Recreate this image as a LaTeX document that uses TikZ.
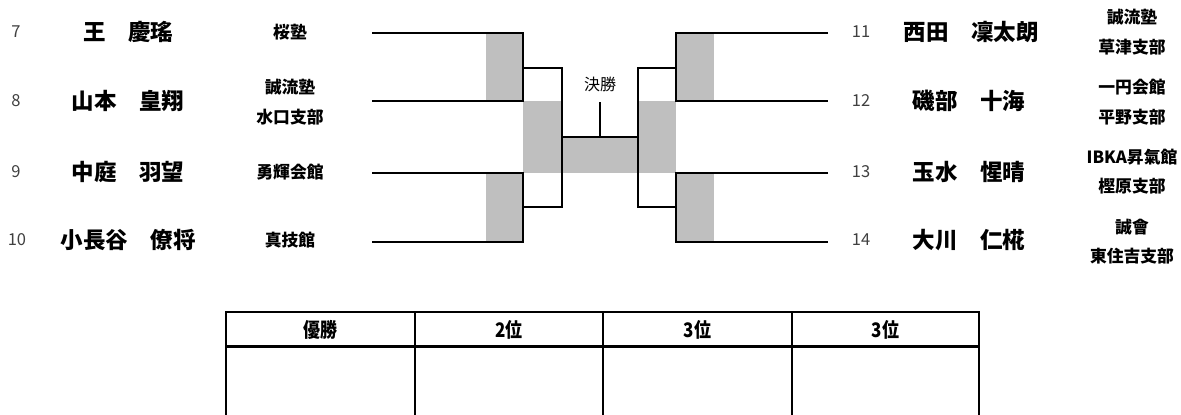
\documentclass[tikz,border=0pt]{standalone}
\usepackage{fontspec}
\usepackage{graphicx}
\setmainfont{Noto Sans CJK JP}
\definecolor{shade}{HTML}{BFBFBF}
\definecolor{numgray}{HTML}{404040}
\tikzset{
  pname/.style={font=\fontsize{22.5}{22.5}\selectfont\bfseries, inner sep=0pt, anchor=center},
  club/.style={font=\fontsize{16.8}{16.8}\selectfont\bfseries, inner sep=0pt, anchor=center},
  seed/.style={font=\fontsize{16.5}{16.5}\selectfont, text=numgray, inner sep=0pt, anchor=center},
  hdr/.style={font=\fontsize{20}{20}\selectfont\bfseries, inner sep=0pt, anchor=center},
  bline/.style={line width=1.8pt},
  tline/.style={line width=2.2pt},
  grayfill/.style={fill=shade, draw=none}
}
\begin{document}
\begin{tikzpicture}[x=1pt,y=-1pt]
\useasboundingbox (0,0) rectangle (1181,415);
% ---------- shaded areas ----------
\fill[grayfill] (486,32.7) rectangle (523,101);
\fill[grayfill] (486,172.7) rectangle (523,241.7);
\fill[grayfill] (523,101) rectangle (562,172.7);
\fill[grayfill] (562,137) rectangle (638,172.7);
\fill[grayfill] (638,101) rectangle (676,172.7);
\fill[grayfill] (676,32.7) rectangle (714,101);
\fill[grayfill] (676,172.7) rectangle (714,241.7);
% ---------- coordinates ----------
\coordinate (l7) at (372,32.7);  \coordinate (l7e) at (523,32.7);
\coordinate (l8) at (372,101);   \coordinate (l8e) at (523,101);
\coordinate (l9) at (372,172.7); \coordinate (l9e) at (523,172.7);
\coordinate (l10) at (372,241.7);\coordinate (l10e) at (523,241.7);
\coordinate (r11) at (828,32.7); \coordinate (r11e) at (676,32.7);
\coordinate (r12) at (828,101);  \coordinate (r12e) at (676,101);
\coordinate (r13) at (828,172.7);\coordinate (r13e) at (676,172.7);
\coordinate (r14) at (828,241.7);\coordinate (r14e) at (676,241.7);
\coordinate (la) at (523,67.7);  \coordinate (lam) at (562,67.7);
\coordinate (lb) at (523,206.7); \coordinate (lbm) at (562,206.7);
\coordinate (ra) at (676,67.7);  \coordinate (ram) at (638,67.7);
\coordinate (rb) at (676,206.7); \coordinate (rbm) at (638,206.7);
\coordinate (fl) at (562,137);   \coordinate (fr) at (638,137);
\coordinate (fm) at (600,137);   \coordinate (ft) at (600,102);
% ---------- bracket lines ----------
\draw[bline] (l7) -- (l7e) -- (l8e) -- (l8);
\draw[bline] (l9) -- (l9e) -- (l10e) -- (l10);
\draw[bline] (la) -- (lam) -- (lbm) -- (lb);
\draw[bline] (r11) -- (r11e) -- (r12e) -- (r12);
\draw[bline] (r13) -- (r13e) -- (r14e) -- (r14);
\draw[bline] (ra) -- (ram) -- (rbm) -- (rb);
\draw[bline] (fl) -- (fr);
\draw[bline] (fm) -- (ft);
\node[inner sep=0pt, font=\fontsize{16}{16}\selectfont] (final) at (600,84) {決勝};
% ---------- left players ----------
\node[seed] (s7) at (16,32) {7};
\node[seed] (s8) at (16,101) {8};
\node[seed] (s9) at (16,172) {9};
\node[seed] (s10) at (17,240) {10};
\node[pname] (n7) at (128,32) {王　慶瑤};
\node[pname] (n8) at (128,101) {山本　皇翔};
\node[pname] (n9) at (128,172) {中庭　羽望};
\node[pname] (n10) at (128,240) {小長谷　僚将};
\node[club] (c7) at (290,32) {桜塾};
\node[club] (c8a) at (290,87) {誠流塾};
\node[club] (c8b) at (290,117) {水口支部};
\node[club] (c9) at (290,172) {勇輝会館};
\node[club] (c10) at (290,240) {真技館};
% ---------- right players ----------
\node[seed] (s11) at (861,32) {11};
\node[seed] (s12) at (861,101) {12};
\node[seed] (s13) at (861,172) {13};
\node[seed] (s14) at (861,240) {14};
\node[pname] (n11) at (971,32) {西田　凜太朗};
\node[pname] (n12) at (969,101) {磯部　十海};
\node[pname] (n13) at (969,172) {玉水　惺晴};
\node[pname] (n14) at (969,240) {大川　仁椛};
\node[club] (c11a) at (1132,17) {誠流塾};
\node[club] (c11b) at (1132,47) {草津支部};
\node[club] (c12a) at (1132,87) {一円会館};
\node[club] (c12b) at (1132,117) {平野支部};
\node[club] (c13a) at (1132,157) {IBKA昇氣館};
\node[club] (c13b) at (1132,186) {樫原支部};
\node[club] (c14a) at (1132,227) {誠會};
\node[club] (c14b) at (1132,256) {東住吉支部};
% ---------- result table ----------
\coordinate (t0) at (226,312); \coordinate (t4) at (979,312);
\coordinate (h0) at (226,346.5); \coordinate (h4) at (979,346.5);
\draw[tline] (226,415) -- (t0) -- (t4) -- (979,415);
\draw[tline] (h0) -- (h4);
\draw[tline] (415,312) -- (415,415);
\draw[tline] (603,312) -- (603,415);
\draw[tline] (792,312) -- (792,415);
\node[hdr] (p1) at (320.5,329.5) {\scalebox{0.85}[1]{優勝}};
\node[hdr] (p2) at (509,329.5) {\scalebox{0.85}[1]{2位}};
\node[hdr] (p3) at (697.5,329.5) {\scalebox{0.85}[1]{3位}};
\node[hdr] (p4) at (885.5,329.5) {\scalebox{0.85}[1]{3位}};
\end{tikzpicture}
\end{document}
